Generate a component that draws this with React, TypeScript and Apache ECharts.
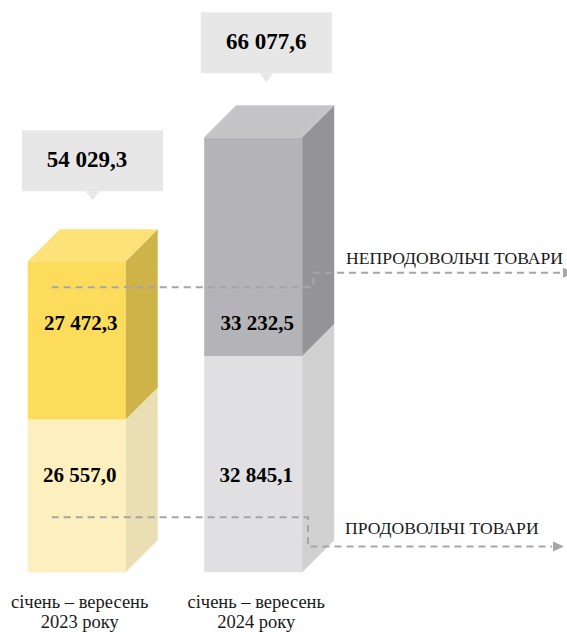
import React, { useEffect, useRef } from "react";
import * as echarts from "echarts";

const categories = ["січень – вересень\n2023 року", "січень – вересень\n2024 року"];
const foodValues = [26557.0, 32845.1];
const nonFoodValues = [27472.3, 33232.5];
const totalValues = [54029.3, 66077.6];
const seriesNames = ["ПРОДОВОЛЬЧІ ТОВАРИ", "НЕПРОДОВОЛЬЧІ ТОВАРИ"];
const axisMax = [99425, 86935];
const xRange = [-0.4346, 2.7779];

const palettes = [
  { upFront: "#FDDC5C", upSide: "#CEB448", top: "#FDE27A", lowFront: "#FEF0BE", lowSide: "#EADFB2" },
  { upFront: "#B4B4B8", upSide: "#949496", top: "#C5C5C7", lowFront: "#E0E0E2", lowSide: "#D1D1D2" },
];
const boxStyles = [
  { w: 141, dx: 15.8, textDx: 10.3, gap: 38 },
  { w: 131, dx: 13.1, textDx: 13.1, gap: 32 },
];

const SERIF = "Liberation Serif";
const fmt = (v: number) => {
  const [i, d] = v.toFixed(1).split(".");
  return i.replace(/\B(?=(\d{3})+(?!\d))/g, " ") + "," + d;
};

const HALF_W = 49;
const DX = 32;
const DY = 32;

function renderItem(params: any, api: any) {
  const idx = api.value(0);
  const food = api.value(1);
  const non = api.value(2);
  const total = api.value(3);
  const p = palettes[idx];
  const b = boxStyles[idx];
  const base = api.coord([idx, 0]);
  const split = api.coord([idx, food]);
  const top = api.coord([idx, food + non]);
  const cx = base[0];
  const x0 = cx - HALF_W;
  const x1 = cx + HALF_W;
  const yb = base[1];
  const ys = split[1];
  const yt = top[1];
  const backTop = yt - DY;
  const boxCx = cx + b.dx;
  const boxW = b.w;
  const boxH = 61;
  const boxBottom = backTop - b.gap;
  const tip = boxBottom + 9;
  const txt = (text: string, x: number, y: number, size: number) => ({
    type: "text",
    x,
    y,
    style: {
      text,
      fill: "#000",
      fontFamily: SERIF,
      fontWeight: "bold",
      fontSize: size,
      textAlign: "center",
      textVerticalAlign: "middle",
    },
  });
  return {
    type: "group",
    children: [
      { type: "rect", shape: { x: x0, y: ys, width: x1 - x0, height: yb - ys }, style: { fill: p.lowFront } },
      {
        type: "polygon",
        shape: { points: [[x1, yb], [x1 + DX, yb - DY], [x1 + DX, ys - DY], [x1, ys]] },
        style: { fill: p.lowSide },
      },
      { type: "rect", shape: { x: x0, y: yt, width: x1 - x0, height: ys - yt }, style: { fill: p.upFront } },
      {
        type: "polygon",
        shape: { points: [[x1, ys], [x1 + DX, ys - DY], [x1 + DX, yt - DY], [x1, yt]] },
        style: { fill: p.upSide },
      },
      {
        type: "polygon",
        shape: { points: [[x0, yt], [x1, yt], [x1 + DX, yt - DY], [x0 + DX, yt - DY]] },
        style: { fill: p.top },
      },
      txt(fmt(non), cx + 4, yb - 249, 21),
      txt(fmt(food), cx + 3, yb - 97, 21),
      {
        type: "rect",
        shape: { x: boxCx - boxW / 2, y: boxBottom - boxH, width: boxW, height: boxH },
        style: { fill: "#E7E7E7" },
      },
      {
        type: "polygon",
        shape: { points: [[boxCx - 7, boxBottom], [boxCx + 7, boxBottom], [boxCx, tip]] },
        style: { fill: "#E7E7E7" },
      },
      txt(fmt(total), cx + b.textDx, boxBottom - boxH / 2 - 1, 23),
      {
        type: "text",
        x: cx + 3,
        y: yb + 20,
        style: {
          text: categories[idx],
          fill: "#1a1a1a",
          fontFamily: SERIF,
          fontSize: 18.5,
          lineHeight: 19.5,
          textAlign: "center",
          textVerticalAlign: "top",
        },
      },
    ],
  };
}

export default function App() {
  const ref = useRef<HTMLDivElement>(null);
  useEffect(() => {
    if (!ref.current) return;
    const chart = echarts.init(ref.current, undefined, { renderer: "svg" });
    const dash = { stroke: "#A6A6A6", lineWidth: 2, lineDash: [7, 5], fill: null };
    const legendText = (text: string, x: number, y: number) => ({
      type: "text",
      z: 100,
      x,
      y,
      style: {
        text,
        fill: "#1a1a1a",
        fontFamily: SERIF,
        fontSize: 17.6,
        textAlign: "left",
        textVerticalAlign: "middle",
      },
    });
    chart.setOption({
      animation: false,
      backgroundColor: "#fff",
      grid: { left: 0, right: 0, top: 0, bottom: 59.7 },
      xAxis: { type: "value", min: xRange[0], max: xRange[1], show: false },
      yAxis: axisMax.map((m) => ({ type: "value", min: 0, max: m, show: false })),
      series: categories.map((c, i) => ({
        type: "custom",
        name: c,
        xAxisIndex: 0,
        yAxisIndex: i,
        renderItem,
        clip: false,
        encode: { x: 0, y: [1, 3] },
        data: [[i, foodValues[i], nonFoodValues[i], totalValues[i]]],
        z: 2,
      })),
      graphic: [
        {
          type: "polyline",
          z: 100,
          shape: { points: [[51.7, 287.3], [313.5, 287.3], [313.5, 272.7], [562, 272.7]] },
          style: dash,
        },
        {
          type: "polygon",
          z: 100,
          shape: { points: [[563, 267.7], [574, 272.7], [563, 277.7]] },
          style: { fill: "#A6A6A6" },
        },
        {
          type: "polyline",
          z: 100,
          shape: { points: [[51.7, 517.3], [308, 517.3], [308, 546.5], [552, 546.5]] },
          style: dash,
        },
        {
          type: "polygon",
          z: 100,
          shape: { points: [[553, 541.5], [564, 546.5], [553, 551.5]] },
          style: { fill: "#A6A6A6" },
        },
        legendText(seriesNames[1], 346, 258.3),
        legendText(seriesNames[0], 345, 528.3),
      ],
    });
    return () => chart.dispose();
  }, []);
  return <div ref={ref} style={{ position: "fixed", left: 0, top: 0, width: 567, height: 632 }} />;
}
